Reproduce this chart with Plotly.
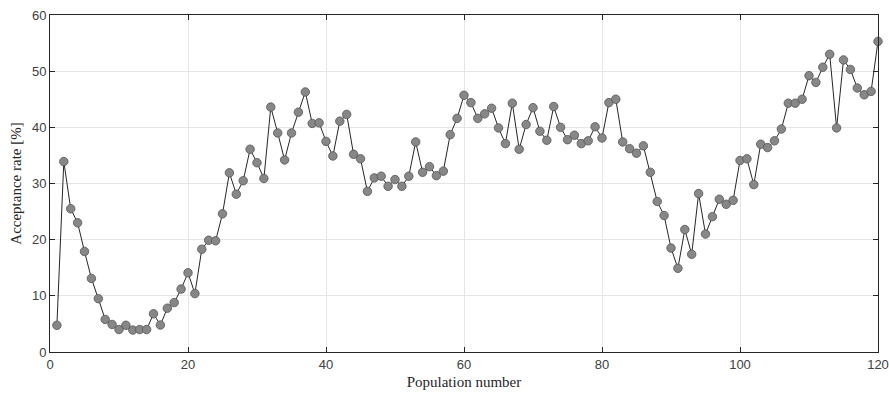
import plotly.graph_objects as go

population = list(range(1, 121))
acceptance = [
    4.75, 33.9, 25.5, 23.0, 17.9, 13.1, 9.5, 5.8, 4.9, 4.0,
    4.75, 3.9, 4.0, 4.0, 6.8, 4.8, 7.8, 8.8, 11.2, 14.1,
    10.4, 18.3, 19.9, 19.8, 24.6, 31.9, 28.1, 30.5, 36.1, 33.7,
    30.9, 43.6, 39.0, 34.2, 39.0, 42.7, 46.3, 40.7, 40.8, 37.5,
    34.9, 41.1, 42.3, 35.2, 34.4, 28.6, 31.0, 31.3, 29.5, 30.7,
    29.5, 31.3, 37.4, 32.0, 33.0, 31.4, 32.2, 38.7, 41.6, 45.7,
    44.4, 41.6, 42.4, 43.4, 39.9, 37.1, 44.3, 36.1, 40.5, 43.5,
    39.3, 37.7, 43.7, 40.0, 37.8, 38.6, 37.1, 37.6, 40.1, 38.1,
    44.4, 45.0, 37.4, 36.2, 35.4, 36.7, 32.0, 26.8, 24.3, 18.5,
    14.9, 21.8, 17.4, 28.2, 21.0, 24.1, 27.2, 26.3, 27.0, 34.1,
    34.4, 29.8, 37.0, 36.4, 37.6, 39.7, 44.3, 44.3, 45.0, 49.2,
    48.0, 50.7, 53.0, 39.9, 52.0, 50.3, 47.0, 45.8, 46.4, 55.3,
]
x_ticks = [0, 20, 40, 60, 80, 100, 120]
y_ticks = [0, 10, 20, 30, 40, 50, 60]

fig = go.Figure()
fig.add_trace(go.Scatter(
    x=population, y=acceptance, mode="lines+markers",
    line=dict(color="#262626", width=1),
    marker=dict(size=8.5, color="#878787", line=dict(color="#555555", width=0.8)),
    showlegend=False, cliponaxis=False,
))

axis_common = dict(
    showline=True, linecolor="#262626", linewidth=1, mirror="ticks",
    ticks="inside", ticklen=5, tickcolor="#262626", tickwidth=1,
    showgrid=True, gridcolor="#e6e6e6", gridwidth=1, zeroline=False,
    automargin=False, ticklabeloverflow="allow",
    tickfont=dict(family="Liberation Sans", size=13, color="#404040"),
)
fig.update_xaxes(range=[0, 120], tickvals=x_ticks,
                 title=dict(text="Population number", standoff=5,
                            font=dict(family="Liberation Serif", size=15, color="#262626")),
                 **axis_common)
fig.update_yaxes(range=[0, 60], tickvals=y_ticks,
                 title=dict(text="Acceptance rate [%]", standoff=6,
                            font=dict(family="Liberation Serif", size=15, color="#262626")),
                 **axis_common)
fig.update_layout(
    width=889, height=395,
    margin=dict(l=50, r=11, t=15, b=43),
    paper_bgcolor="white", plot_bgcolor="white",
)
fig.write_html("out.html")
